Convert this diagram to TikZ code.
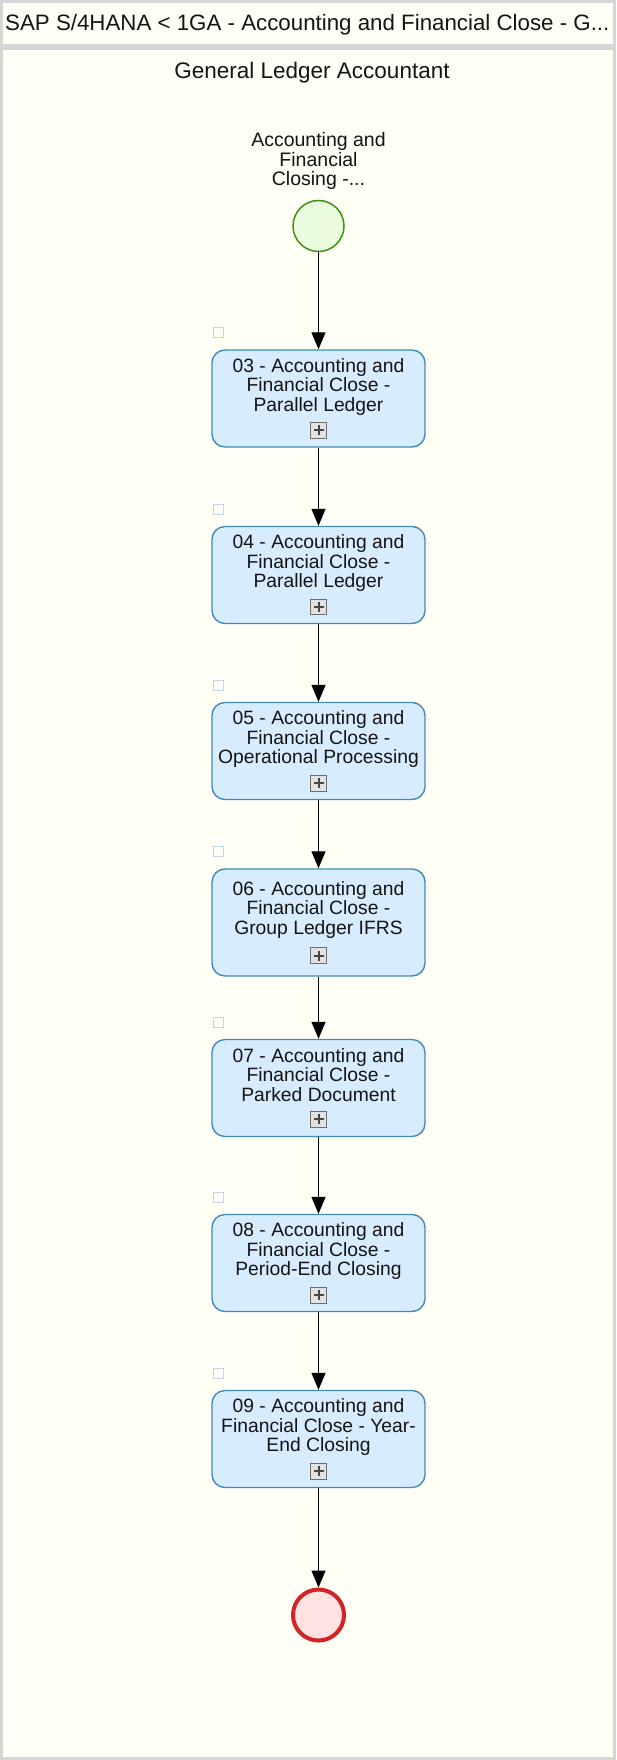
\documentclass[tikz,border=0pt]{standalone}
\usepackage{fontspec}
\setmainfont{Liberation Sans}
\definecolor{lane}{RGB}{255,255,246}
\definecolor{frame}{RGB}{214,214,214}
\definecolor{taskfill}{RGB}{216,236,255}
\definecolor{taskline}{RGB}{66,138,184}
\definecolor{startfill}{RGB}{234,251,224}
\definecolor{startline}{RGB}{64,146,16}
\definecolor{stopfill}{RGB}{255,226,226}
\definecolor{stopline}{RGB}{208,36,40}
\definecolor{markline}{RGB}{190,214,230}
\definecolor{plusframe}{RGB}{110,110,110}
\definecolor{plusfill}{RGB}{226,226,226}
\definecolor{plusbar}{RGB}{70,70,70}
\definecolor{ink}{RGB}{20,20,20}
\usepackage{tikz}
\usetikzlibrary{arrows.meta}
\usetikzlibrary{positioning}
\newcommand*{\plusmark}{{\setlength{\fboxsep}{0pt}\setlength{\fboxrule}{0.9pt}%
  \fcolorbox{plusframe}{plusfill}{\makebox[15pt][c]{\color{plusbar}%
  \makebox[0pt]{\rule[6.5pt]{10pt}{2pt}}\makebox[0pt]{\rule[2.5pt]{2pt}{10pt}}}\rule{0pt}{15pt}}}}
\tikzstyle{lanebox}=[draw=frame, fill=lane, line width=3pt]
\tikzstyle{headtext}=[anchor=base west, inner sep=0pt, text=ink, font=\fontsize{22.3}{24}\selectfont]
\tikzstyle{lanetext}=[anchor=base, inner sep=0pt, text=ink, font=\fontsize{22.5}{24}\selectfont]
\tikzstyle{evlabel}=[align=center, inner sep=0pt, text=ink, font=\fontsize{19.5}{19.2}\selectfont]
\tikzstyle{startev}=[circle, draw=startline, fill=startfill, line width=1.5pt, minimum size=51pt, inner sep=0pt]
\tikzstyle{stopev}=[circle, draw=stopline, fill=stopfill, line width=4pt, minimum size=51pt, inner sep=0pt]
\tikzstyle{task}=[draw=taskline, fill=taskfill, line width=1.4pt, rounded corners=13pt, minimum width=213pt,
  minimum height=97pt, align=center, inner sep=2pt, text=ink, font=\fontsize{19.3}{19.5}\selectfont]
\tikzstyle{markbox}=[draw=markline, line width=1pt, minimum size=10pt, inner sep=0pt, anchor=south west]
\tikzstyle{flow}=[-{Triangle[length=17pt,width=14pt]}, line width=1.3pt]

\begin{document}
\begin{tikzpicture}[x=1pt, y=-1pt]
    \useasboundingbox (0,0) rectangle (616,1760);
    % pool header and lane
    \draw [lanebox] (1.5,1.5) rectangle (614.5,46);
    \draw [lanebox] (1.5,49) rectangle (614.5,1758.5);
    \node [headtext] (pool) at (5,30.7) {SAP S/4HANA < 1GA - Accounting and Financial Close - G...};
    \node [lanetext] (role) at (312,79) {General Ledger Accountant};

    % events
    \node [evlabel] (startlbl) at (318.5,161) {Accounting and\\Financial\\Closing -...};
    \node [startev] (start) at (318.5,226) {};
    \node [stopev] (stop) at (318.5,1615) {};

    % sub-processes
    \node [task] (t03) at (318.5,398.5) {03 - Accounting and\\Financial Close -\\Parallel Ledger\\[6pt]\plusmark};
    \node [task] (t04) at (318.5,575) {04 - Accounting and\\Financial Close -\\Parallel Ledger\\[6pt]\plusmark};
    \node [task] (t05) at (318.5,751) {05 - Accounting and\\Financial Close -\\Operational Processing\\[6pt]\plusmark};
    \node [task, minimum height=107pt] (t06) at (318.5,922.5) {06 - Accounting and\\Financial Close -\\Group Ledger IFRS\\[8pt]\plusmark};
    \node [task] (t07) at (318.5,1088) {07 - Accounting and\\Financial Close -\\Parked Document\\[6pt]\plusmark};
    \node [task] (t08) at (318.5,1263) {08 - Accounting and\\Financial Close -\\Period-End Closing\\[6pt]\plusmark};
    \node [task] (t09) at (318.5,1439) {09 - Accounting and\\Financial Close - Year-\\End Closing\\[6pt]\plusmark};

    % small markers
    \node [markbox] (m03) at ([xshift=2pt,yshift=11pt]t03.north west) {};
    \node [markbox] (m04) at ([xshift=2pt,yshift=11pt]t04.north west) {};
    \node [markbox] (m05) at ([xshift=2pt,yshift=11pt]t05.north west) {};
    \node [markbox] (m06) at ([xshift=2pt,yshift=11pt]t06.north west) {};
    \node [markbox] (m07) at ([xshift=2pt,yshift=11pt]t07.north west) {};
    \node [markbox] (m08) at ([xshift=2pt,yshift=11pt]t08.north west) {};
    \node [markbox] (m09) at ([xshift=2pt,yshift=11pt]t09.north west) {};

    % sequence flows
    \draw [flow] (start) -- (t03);
    \draw [flow] (t03) -- (t04);
    \draw [flow] (t04) -- (t05);
    \draw [flow] (t05) -- (t06);
    \draw [flow] (t06) -- (t07);
    \draw [flow] (t07) -- (t08);
    \draw [flow] (t08) -- (t09);
    \draw [flow] (t09) -- (stop);
\end{tikzpicture}
\end{document}
